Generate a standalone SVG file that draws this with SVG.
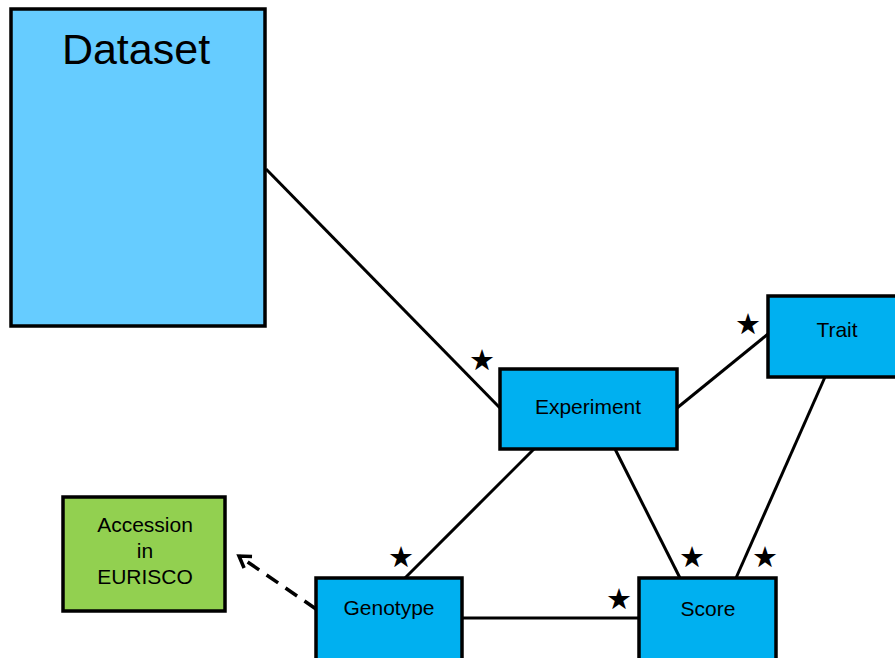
<svg xmlns="http://www.w3.org/2000/svg" width="895" height="658" viewBox="0 0 895 658">
  <defs>
    <marker id="open-arrow" viewBox="0 0 18 18" refX="14" refY="9" markerWidth="18" markerHeight="18" markerUnits="userSpaceOnUse" orient="auto">
      <path d="M3,2 L14,9 L3,16" fill="none" stroke="#000" stroke-width="3.5"/>
    </marker>
  </defs>
  <style>
    .box { stroke: #000; stroke-width: 3.5; }
    .entity { fill: #00B0F0; }
    .dataset { fill: #66CCFF; }
    .external { fill: #92D050; }
    .label { font-family: "Liberation Sans", Arial, sans-serif; font-size: 21px; text-anchor: middle; fill: #000; }
    .title { font-family: "Liberation Sans", Arial, sans-serif; font-size: 43px; text-anchor: middle; fill: #000; }
    .link { stroke: #000; stroke-width: 3; fill: none; }
    .dashed { stroke-width: 3.5; stroke-dasharray: 14 9; }
    .star { font-family: "DejaVu Sans", sans-serif; font-size: 29px; text-anchor: middle; fill: #000; }
  </style>
  <rect width="895" height="658" fill="#fff"/>

  <g id="connectors">
    <line class="link" x1="266" y1="169" x2="500" y2="408"/>
    <line class="link" x1="677" y1="408" x2="768" y2="334"/>
    <line class="link" x1="534" y1="449" x2="405" y2="578"/>
    <line class="link" x1="615" y1="449" x2="680" y2="578"/>
    <line class="link" x1="825" y1="377" x2="736" y2="578"/>
    <line class="link" x1="462" y1="618" x2="639" y2="618"/>
    <line class="link dashed" x1="316" y1="609" x2="239" y2="556" marker-end="url(#open-arrow)"/>
    <text class="star" x="482" y="370">★</text>
    <text class="star" x="748" y="334">★</text>
    <text class="star" x="401" y="567">★</text>
    <text class="star" x="692" y="567">★</text>
    <text class="star" x="765" y="567">★</text>
    <text class="star" x="619" y="609">★</text>
  </g>

  <g id="dataset">
    <rect class="box dataset" x="11" y="9" width="254" height="317"/>
    <text class="title" x="136" y="64">Dataset</text>
  </g>

  <g id="experiment">
    <rect class="box entity" x="500" y="369" width="177" height="80"/>
    <text class="label" x="588" y="414">Experiment</text>
  </g>

  <g id="trait">
    <rect class="box entity" x="768" y="296" width="132" height="81"/>
    <text class="label" x="837" y="337">Trait</text>
  </g>

  <g id="genotype">
    <rect class="box entity" x="316" y="578" width="146" height="90"/>
    <text class="label" x="389" y="615">Genotype</text>
  </g>

  <g id="score">
    <rect class="box entity" x="639" y="578" width="137" height="90"/>
    <text class="label" x="708" y="616">Score</text>
  </g>

  <g id="accession">
    <rect class="box external" x="63" y="497" width="162" height="114"/>
    <text class="label" x="145" y="532">Accession</text>
    <text class="label" x="145" y="558">in</text>
    <text class="label" x="145" y="584">EURISCO</text>
  </g>
</svg>
